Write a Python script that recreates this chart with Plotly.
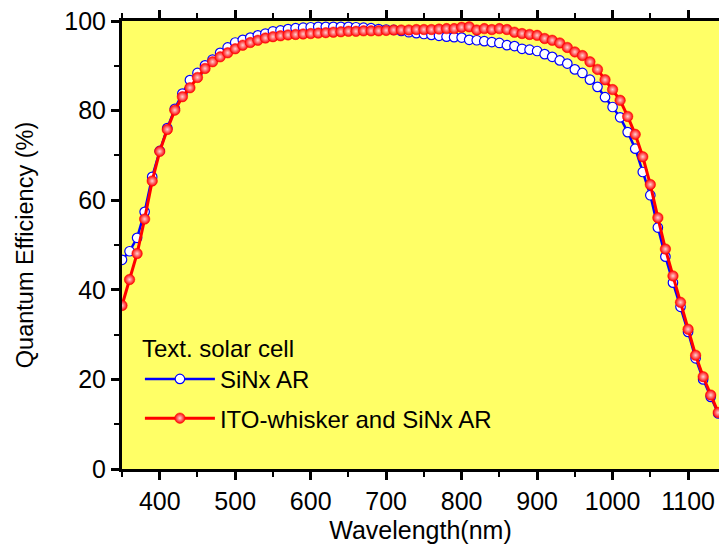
import plotly.graph_objects as go

wavelength = list(range(350, 1141, 10))

sinx_ar = [46.7, 48.6, 51.6, 57.4, 65.2, 71.0, 76.1, 80.4, 83.8, 86.8,
           88.4, 90.1, 91.4, 92.9, 94.1, 95.2, 95.8, 96.3, 96.8, 97.2,
           97.7, 97.9, 98.2, 98.4, 98.5, 98.6, 98.7, 98.7, 98.7, 98.7,
           98.7, 98.6, 98.5, 98.4, 98.2, 98.1, 98.0, 97.8, 97.5, 97.3,
           97.1, 96.9, 96.7, 96.5, 96.4, 96.3, 95.8, 95.7, 95.5, 95.3,
           95.1, 94.6, 94.4, 93.8, 93.6, 93.3, 92.6, 92.0, 91.2, 90.5,
           89.2, 88.4, 86.9, 85.3, 83.0, 80.8, 78.5, 75.2, 71.5, 66.3,
           61.1, 53.9, 47.4, 41.6, 36.2, 30.6, 24.7, 20.0, 16.1, 12.4]

ito_sinx = [36.5, 42.3, 48.1, 55.8, 64.3, 70.9, 75.8, 80.1, 83.1, 85.1,
            87.4, 89.4, 90.9, 92.0, 92.9, 93.8, 94.6, 95.2, 95.7, 96.2,
            96.5, 96.7, 96.9, 97.0, 97.1, 97.2, 97.3, 97.4, 97.5, 97.6,
            97.7, 97.7, 97.8, 97.8, 97.8, 97.9, 98.0, 98.0, 98.0, 98.1,
            98.1, 98.1, 98.2, 98.3, 98.3, 98.6, 98.7, 98.0, 98.3, 98.1,
            98.3, 98.1, 97.5, 97.2, 97.0, 96.8, 96.1, 95.7, 95.1, 94.1,
            93.1, 92.3, 90.9, 89.2, 86.9, 84.7, 82.3, 78.7, 74.7, 69.7,
            63.5, 56.1, 49.1, 43.1, 37.2, 31.2, 25.4, 20.6, 16.5, 12.6]

x_ticks = [400, 500, 600, 700, 800, 900, 1000, 1100]
y_ticks = [0, 20, 40, 60, 80, 100]

FONT = "Liberation Sans, Arial, sans-serif"

fig = go.Figure()
fig.add_trace(go.Scatter(
    x=wavelength, y=sinx_ar, mode="lines+markers", name="SiNx AR",
    legendgroup="a",
    line=dict(color="#0000ff", width=2.5),
    marker=dict(symbol="circle", size=9.5, color="white",
                line=dict(color="#0000ff", width=1.2)),
))
fig.add_trace(go.Scatter(
    x=wavelength, y=ito_sinx, mode="lines+markers", name="ITO-whisker and SiNx AR",
    legendgroup="b",
    line=dict(color="#ff0000", width=3),
    marker=dict(symbol="circle", size=10.5, color="#ff0000",
                gradient=dict(type="radial", color="#ffd0d0"),
                line=dict(color="#ff0000", width=0.5)),
))

axis_common = dict(
    showgrid=False, zeroline=False, showline=True, linecolor="black",
    linewidth=3, ticks="outside", ticklen=8, tickwidth=2.5, tickcolor="black",
    tickfont=dict(family=FONT, size=25, color="black"),
)

fig.update_xaxes(
    range=[350, 1141], tickvals=x_ticks, mirror="ticks",
    minor=dict(dtick=50, ticks="outside", ticklen=5, tickwidth=2, tickcolor="black"),
    title=dict(text="Wavelength(nm)", font=dict(family=FONT, size=25, color="black"),
               standoff=8),
    **axis_common,
)
fig.update_yaxes(
    range=[0, 100], tickvals=y_ticks, mirror=False,
    minor=dict(dtick=10, ticks="outside", ticklen=5, tickwidth=2, tickcolor="black"),
    title=dict(text="Quantum Efficiency (%)", font=dict(family=FONT, size=23.5, color="black"),
               standoff=25),
    **axis_common,
)

fig.update_layout(
    width=719, height=549,
    margin=dict(l=122, r=0, t=21, b=80),
    plot_bgcolor="#ffff66", paper_bgcolor="white",
    font=dict(family=FONT, color="black"),
    legend=dict(
        title=dict(text="Text. solar cell", font=dict(family=FONT, size=24)),
        font=dict(family=FONT, size=24),
        x=0.03, y=0.32, xanchor="left", yanchor="top",
        bgcolor="rgba(0,0,0,0)", itemwidth=70, tracegroupgap=5,
        traceorder="grouped",
    ),
)

fig.write_html(
    "out.html",
    config={"displayModeBar": False},
    post_script="document.body.style.margin='0';document.body.style.overflow='hidden';",
)
